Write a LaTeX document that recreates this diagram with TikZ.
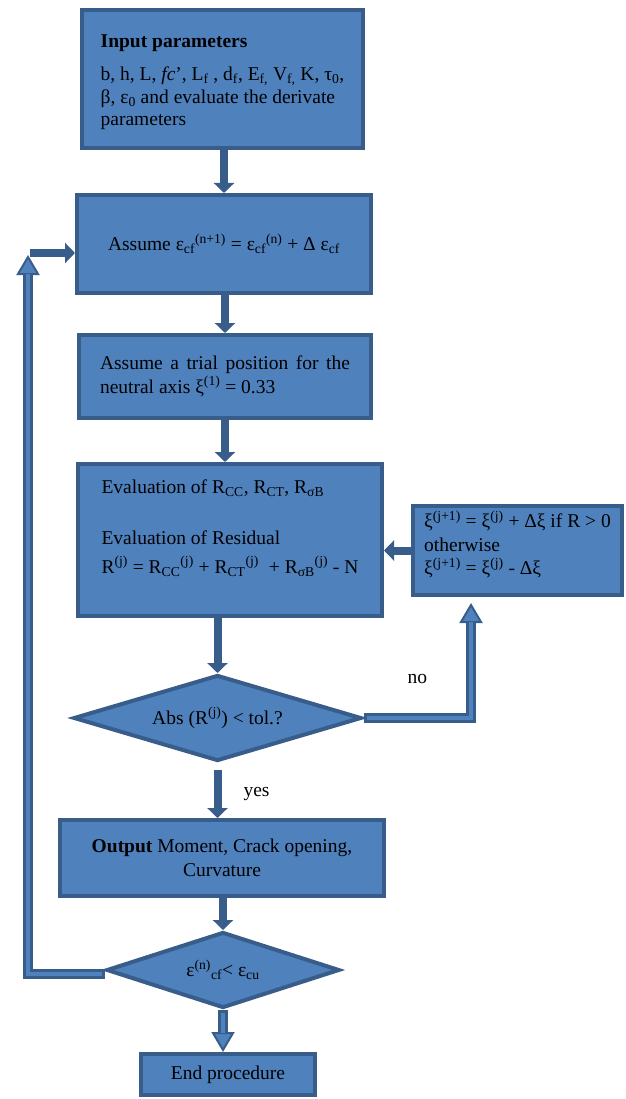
\documentclass[tikz,border=0pt]{standalone}
\usepackage{fontspec}
\setmainfont{Liberation Serif}
\usetikzlibrary{shapes.geometric, arrows.meta, positioning}
\definecolor{boxblue}{HTML}{4F81BD}
\definecolor{edgeblue}{HTML}{385D8A}
\newcommand\flowfont{\fontsize{19.5}{23.5}\selectfont}

\begin{document}
\begin{tikzpicture}[
    box/.style={rectangle, draw=edgeblue, fill=boxblue, line width=4pt,
                inner sep=0pt, font=\flowfont},
    test/.style={diamond, draw=edgeblue, fill=boxblue, line width=4pt,
                 aspect=3.4, inner sep=0pt, font=\flowfont},
    flow/.style={draw=edgeblue, line width=8pt, -{Triangle[length=10pt, width=20pt]}},
    dflow/.style={draw=edgeblue, line width=10pt,
                  -{Triangle[length=20pt, width=23pt, line width=2pt, fill=boxblue]},
                  postaction={draw=boxblue, line width=3.5pt, -, shorten >=19pt, shorten <=3pt}},
    lbl/.style={font=\flowfont, inner sep=1pt}
]
\useasboundingbox (0,0) rectangle (625pt,-1099pt);

\node[box, align=left, minimum width=281pt, minimum height=138pt] (input) at (222.5pt,-79pt)
  {\mbox{}\\[-4pt]
   \textbf{Input parameters}\\[9.5pt]
   b, h, L, \textit{fc}’, L\textsubscript{f} , d\textsubscript{f}, E\textsubscript{f,} V\textsubscript{f,} K, τ\textsubscript{0},\\[-1pt]
   β, ε\textsubscript{0} and evaluate the derivate\\[-1pt]
   parameters};
\node[box, minimum width=294pt, minimum height=98pt, below=43pt of input, xshift=1.5pt] (assume)
  {Assume ε\textsubscript{cf}\textsuperscript{(n+1)} = ε\textsubscript{cf}\textsuperscript{(n)} + Δ ε\textsubscript{cf}};
\node[box, text width=250pt, align=justify, minimum width=292pt, minimum height=83pt,
      below=38pt of assume, xshift=1pt] (trial)
  {Assume a trial position for the neutral axis ξ\textsuperscript{(1)} = 0.33};
\node[box, align=left, minimum width=304pt, minimum height=152pt,
      below=42pt of trial, xshift=5pt] (eval)
  {Evaluation of R\textsubscript{CC}, R\textsubscript{CT}, R\textsubscript{σB}\\[28pt]
   Evaluation of Residual\\[5pt]
   R\textsuperscript{(j)} = R\textsubscript{CC}\textsuperscript{(j)} + R\textsubscript{CT}\textsuperscript{(j)}\hspace{10pt}+ R\textsubscript{σB}\textsuperscript{(j)} - N\\[4pt]
   \mbox{}};
\node[box, align=left, minimum width=209pt, minimum height=89pt,
      right=27pt of eval, yshift=-10.5pt] (xi)
  {ξ\textsuperscript{(j+1)} = ξ\textsuperscript{(j)} + Δξ if R > 0\\
   otherwise\\
   ξ\textsuperscript{(j+1)} = ξ\textsuperscript{(j)} - Δξ\\[-8pt]
   \mbox{}};
\node[test, minimum width=288pt, minimum height=86pt, below=55pt of eval, xshift=-12.5pt] (conv)
  {Abs (R\textsuperscript{(j)}) < tol.?};
\node[box, align=center, minimum width=324pt, minimum height=76pt,
      below=55pt of conv, xshift=4.5pt] (output)
  {\textbf{Output} Moment, Crack opening,\\Curvature};
\node[test, minimum width=233pt, minimum height=76pt, below=32pt of output, xshift=1pt] (ult)
  {ε\textsuperscript{(n)}\textsubscript{cf}< ε\textsubscript{cu}};
\node[box, minimum width=174pt, minimum height=41pt, below=42pt of ult, xshift=5pt] (end)
  {End procedure};
\coordinate (loop) at (28pt,-255pt);

\draw[flow] (assume.north |- input.south) -- (assume.north);
\draw[flow] (trial.north |- assume.south) -- (trial.north);
\draw[flow] (trial.south) -- (trial.south |- eval.north);
\draw[flow] (conv.north |- eval.south) -- (conv.north);
\draw[flow] (xi.west) -- (xi.west -| eval.east);
\draw[dflow] (conv.east) -| ([xshift=-46.5pt, yshift=-6pt]xi.south)
    node[lbl, pos=0.25, above=28pt] {no};
\draw[flow] ([yshift=-7pt]conv.south) -- (conv.south |- output.north)
    node[lbl, pos=0.5, right=21pt] {yes};
\draw[flow] (ult.north |- output.south) -- (ult.north);
\draw[dflow] (ult.south) -- (ult.south |- end.north);
\draw[dflow] ([yshift=-4pt]ult.west) -| (loop);
\draw[flow] ([xshift=2pt, yshift=2pt]loop) -- ([yshift=2pt]loop -| assume.west);

\end{tikzpicture}
\end{document}
